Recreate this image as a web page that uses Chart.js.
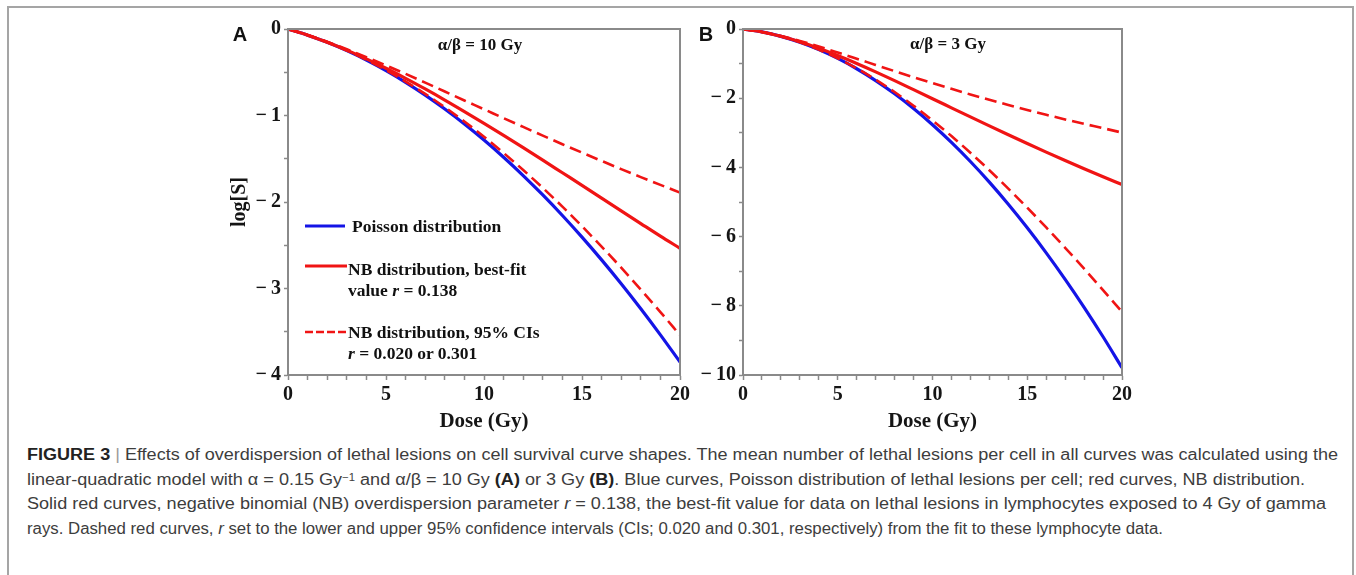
<!DOCTYPE html>
<html>
<head>
<meta charset="utf-8">
<script src="https://cdn.jsdelivr.net/npm/chart.js@4.4.1/dist/chart.umd.min.js"></script>
<style>
  body { margin: 0; width: 1356px; height: 575px; overflow: hidden; position: relative; background: #fff; font-family: "Liberation Serif", serif; }
  .frame { position: absolute; left: 7px; top: 6px; width: 1343px; height: 640px; border: 2px solid #a5a5a5; }
  canvas { position: absolute; }
  .panel { position: absolute; font: bold 20px "Liberation Sans", Arial, sans-serif; color: #111; transform: translate(-50%, -50%); }
  .note { position: absolute; font: bold 17px "Liberation Serif", serif; color: #111; transform: translate(-50%, -50%); white-space: nowrap; }
  .leg { position: absolute; font: bold 17.5px "Liberation Serif", serif; line-height: 21px; color: #111; white-space: nowrap; }
  .swatch { position: absolute; left: 305px; width: 42px; height: 8px; overflow: visible; }
  .caption { position: absolute; left: 27px; top: 443px; font: 16px "Liberation Sans", Arial, sans-serif; color: #3d3d3d; line-height: 24.5px; }
  .caption div { white-space: nowrap; transform-origin: 0 50%; width: max-content; }
  .caption b { color: #222; }
  .caption .bar { color: #999; }
  .caption sup { font-size: 10px; position: relative; top: -2px; vertical-align: top; }
</style>
</head>
<body>
<div class="frame"></div>

<canvas id="chartA" width="500" height="430" style="left:200px; top:10px;"></canvas>
<canvas id="chartB" width="452" height="430" style="left:690px; top:10px;"></canvas>

<div class="panel" style="left:240px; top:34px;">A</div>
<div class="panel" style="left:706px; top:34px;">B</div>
<div class="note" style="left:480px; top:45px;">α/β = 10 Gy</div>
<div class="note" style="left:948px; top:44px;">α/β = 3 Gy</div>

<svg class="swatch" style="top:222px;"><line x1="0" y1="4" x2="40" y2="4" stroke="rgb(20,20,230)" stroke-width="3.2"/></svg>
<div class="leg" style="left:352px; top:216px;">Poisson distribution</div>
<svg class="swatch" style="top:262px;"><line x1="0" y1="4" x2="42" y2="4" stroke="rgb(240,20,20)" stroke-width="3.2"/></svg>
<div class="leg" style="left:348px; top:259px;">NB distribution, best-fit<br>value <i>r</i> = 0.138</div>
<svg class="swatch" style="top:328px;"><line x1="0" y1="4" x2="42" y2="4" stroke="rgb(240,20,20)" stroke-width="2.6" stroke-dasharray="8,3"/></svg>
<div class="leg" style="left:348px; top:322px;">NB distribution, 95% CIs<br><i>r</i> = 0.020 or 0.301</div>

<div class="caption">
  <div data-w="1311"><b>FIGURE 3</b> <span class="bar">|</span> Effects of overdispersion of lethal lesions on cell survival curve shapes. The mean number of lethal lesions per cell in all curves was calculated using the</div>
  <div data-w="1278">linear-quadratic model with α = 0.15 Gy<sup>−1</sup> and α/β = 10 Gy <b>(A)</b> or 3 Gy <b>(B)</b>. Blue curves, Poisson distribution of lethal lesions per cell; red curves, NB distribution.</div>
  <div data-w="1299">Solid red curves, negative binomial (NB) overdispersion parameter <i>r</i> = 0.138, the best-fit value for data on lethal lesions in lymphocytes exposed to 4 Gy of gamma</div>
  <div data-w="1136">rays. Dashed red curves, <i>r</i> set to the lower and upper 95% confidence intervals (CIs; 0.020 and 0.301, respectively) from the fit to these lymphocyte data.</div>
</div>

<script>
// dose (Gy)
const dose = [0, 1, 2, 3, 4, 5, 6, 7, 8, 9, 10, 11, 12, 13, 14, 15, 16, 17, 18, 19, 20];

// panel A, alpha/beta = 10 Gy  (log[S])
const poissonA = [0, -0.071, -0.154, -0.250, -0.359, -0.481, -0.616, -0.764, -0.924, -1.097, -1.283, -1.482, -1.694, -1.919, -2.156, -2.406, -2.669, -2.945, -3.234, -3.536, -3.850];
const nbBestA  = [0, -0.071, -0.153, -0.244, -0.345, -0.454, -0.570, -0.693, -0.821, -0.954, -1.090, -1.230, -1.372, -1.516, -1.662, -1.808, -1.955, -2.102, -2.249, -2.395, -2.535];
const nbLowA   = [0, -0.070, -0.153, -0.249, -0.357, -0.476, -0.608, -0.751, -0.904, -1.070, -1.246, -1.433, -1.630, -1.837, -2.054, -2.280, -2.516, -2.759, -3.012, -3.272, -3.540];
const nbHighA  = [0, -0.070, -0.148, -0.234, -0.325, -0.421, -0.519, -0.620, -0.723, -0.826, -0.928, -1.031, -1.132, -1.233, -1.332, -1.429, -1.525, -1.620, -1.712, -1.802, -1.891];

// panel B, alpha/beta = 3 Gy
const poissonB = [0, -0.085, -0.213, -0.383, -0.596, -0.851, -1.149, -1.490, -1.873, -2.298, -2.767, -3.277, -3.830, -4.426, -5.065, -5.746, -6.469, -7.235, -8.044, -8.895, -9.789];
const nbBestB  = [0, -0.086, -0.210, -0.368, -0.556, -0.767, -0.997, -1.240, -1.493, -1.753, -2.015, -2.278, -2.541, -2.801, -3.058, -3.310, -3.558, -3.801, -4.038, -4.270, -4.497];
const nbLowB   = [0, -0.086, -0.215, -0.385, -0.597, -0.848, -1.136, -1.462, -1.822, -2.216, -2.641, -3.094, -3.576, -4.082, -4.613, -5.164, -5.735, -6.323, -6.927, -7.546, -8.177];
const nbHighB  = [0, -0.084, -0.202, -0.346, -0.507, -0.680, -0.858, -1.038, -1.217, -1.393, -1.564, -1.730, -1.891, -2.046, -2.196, -2.340, -2.479, -2.613, -2.742, -2.866, -2.995];

const BLUE = 'rgb(20,20,230)';
const RED = 'rgb(240,20,20)';
const AXIS = '#8a8a8a';

function pts(ys) {
    return dose.map((d, i) => ({ x: d, y: ys[i] }));
}

function fmt(v) {
    return v === 0 ? '0' : '\u2212\u2009' + Math.abs(v);
}

// frame round the plot area
const boxPlugin = {
    id: 'box',
    afterDatasetsDraw(chart) {
        const { ctx, chartArea: a } = chart;
        ctx.save();
        ctx.strokeStyle = AXIS;
        ctx.lineWidth = 2;
        ctx.strokeRect(a.left, a.top, a.right - a.left, a.bottom - a.top);
        ctx.restore();
    }
};

function makeChart(id, series, yMin, yStep, yLabelEvery, yWidth, xHeight, showTitle) {
    const [poisson, best, low, high] = series;
    return new Chart(document.getElementById(id), {
        type: 'line',
        data: {
            datasets: [
                { data: pts(low), borderColor: RED, borderWidth: 2.6, borderDash: [12, 6] },
                { data: pts(high), borderColor: RED, borderWidth: 2.6, borderDash: [12, 6] },
                { data: pts(best), borderColor: RED, borderWidth: 3.2 },
                { data: pts(poisson), borderColor: BLUE, borderWidth: 3.2 }
            ]
        },
        options: {
            responsive: false,
            animation: false,
            events: [],
            layout: { padding: { left: 0, top: 19, right: 20, bottom: 0 } },
            elements: {
                point: { radius: 0 },
                line: { cubicInterpolationMode: 'monotone', fill: false }
            },
            plugins: { legend: { display: false }, tooltip: { enabled: false } },
            scales: {
                x: {
                    type: 'linear',
                    min: 0,
                    max: 20,
                    afterFit: s => { s.height = xHeight; },
                    border: { color: AXIS, width: 2 },
                    grid: { drawOnChartArea: false, tickLength: 5, color: AXIS, tickWidth: 1.5 },
                    ticks: {
                        stepSize: 1,
                        autoSkip: false,
                        maxRotation: 0,
                        padding: 3,
                        color: '#151515',
                        font: { family: 'Liberation Serif', weight: 'bold', size: 20 },
                        callback: v => (v % 5 === 0 ? String(v) : '')
                    },
                    title: {
                        display: true,
                        text: 'Dose (Gy)',
                        color: '#151515',
                        padding: { top: 0, bottom: 6 },
                        font: { family: 'Liberation Serif', weight: 'bold', size: 21 }
                    }
                },
                y: {
                    type: 'linear',
                    min: yMin,
                    max: 0,
                    afterFit: s => { s.width = yWidth; },
                    border: { color: AXIS, width: 2 },
                    grid: { drawOnChartArea: false, tickLength: 4, color: AXIS, tickWidth: 1.5 },
                    ticks: {
                        stepSize: yStep,
                        autoSkip: false,
                        padding: 3,
                        color: '#151515',
                        font: { family: 'Liberation Serif', weight: 'bold', size: 20 },
                        callback: v => (Math.abs(v % yLabelEvery) < 1e-9 ? fmt(v) : '')
                    },
                    title: {
                        display: showTitle,
                        text: 'log[S]',
                        color: '#151515',
                        padding: { top: 28, bottom: 0 },
                        font: { family: 'Liberation Serif', weight: 'bold', size: 20 }
                    }
                }
            }
        },
        plugins: [boxPlugin]
    });
}

makeChart('chartA', [poissonA, nbBestA, nbLowA, nbHighA], -4, 0.5, 1, 88, 65, true);
makeChart('chartB', [poissonB, nbBestB, nbLowB, nbHighB], -10, 1, 2, 53, 65, false);

// stretch caption lines to the widths they have in the figure
document.querySelectorAll('.caption div').forEach(el => {
    const w = el.getBoundingClientRect().width;
    el.style.transform = 'scaleX(' + (Number(el.dataset.w) / w) + ')';
});
</script>
</body>
</html>
